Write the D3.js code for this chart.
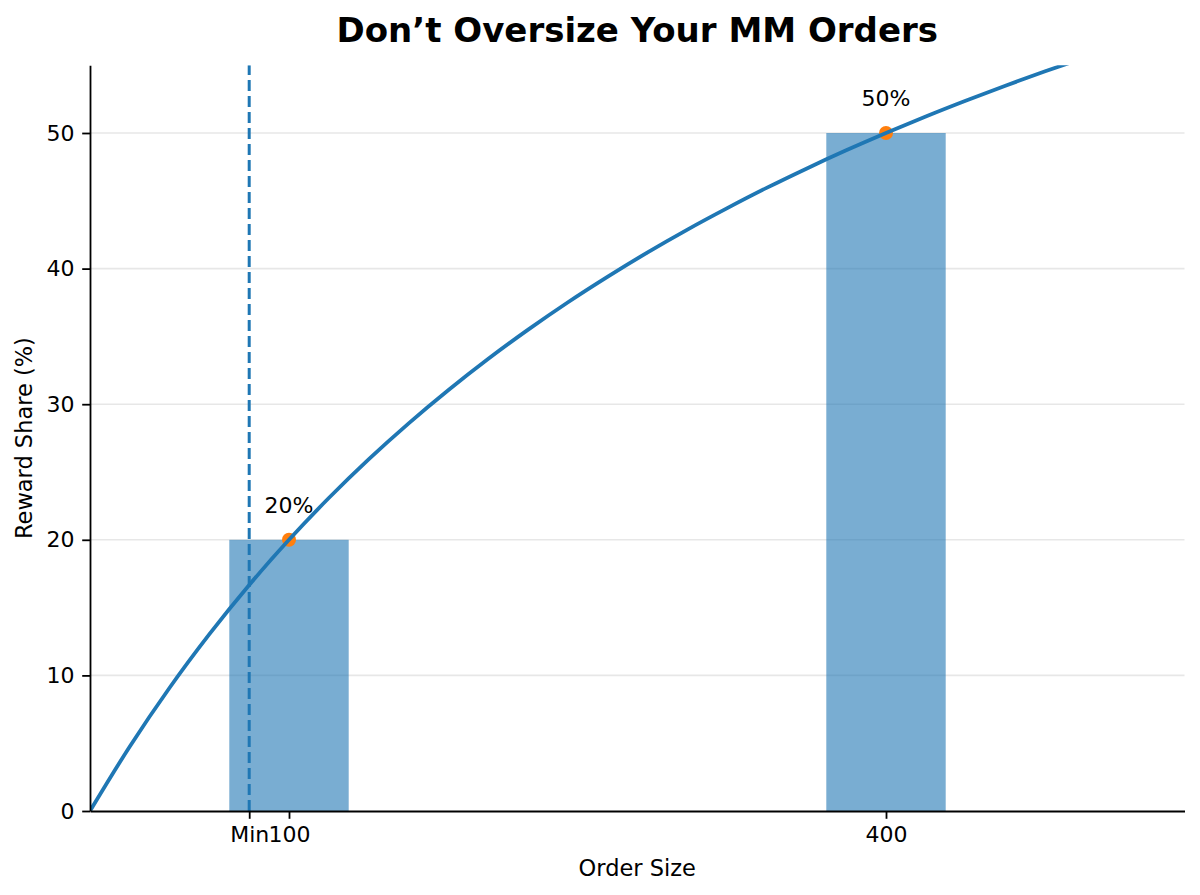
<!DOCTYPE html>
<html>
<head>
<meta charset="utf-8">
<script src="https://cdn.jsdelivr.net/npm/d3@7"></script>
<style>
  html, body { margin: 0; padding: 0; background: #fff; }
  svg { display: block; font-family: "DejaVu Sans", sans-serif; }
</style>
</head>
<body>
<svg id="chart" width="1200" height="895"></svg>
<script>
// ---- data ----
const titleText = "Don\u2019t Oversize Your MM Orders";
const xLabelText = "Order Size";
const yLabelText = "Reward Share (%)";
const barCategories = [100, 400];
const barValues = [20, 50];
const barLabels = ["20%", "50%"];
const barWidthUnits = 60;
const minOrderSize = 80;
const xTickValues = [80, 100, 400];
const xTickLabels = ["Min", "100", "400"];
const yTickValues = [0, 10, 20, 30, 40, 50];
const xDomain = [0, 550];
const yDomain = [0, 55];
const curveX = [0, 20, 40, 60, 80, 100, 120, 140, 160, 180, 200, 220, 240, 260, 280, 300, 320, 340, 360, 380, 400, 420, 440, 460, 480, 500];
const curveY = [0, 4.76, 9.09, 13.04, 16.67, 20.00, 23.08, 25.93, 28.57, 31.03, 33.33, 35.48, 37.50, 39.39, 41.18, 42.86, 44.44, 45.95, 47.37, 48.72, 50.00, 51.22, 52.38, 53.49, 54.55, 55.56];

// ---- layout ----
const L = 90, R = 1184.5, T = 65.2, B = 811;
const blue = "#1f77b4", orange = "#ff7f0e";
const svg = d3.select("#chart");
const x = d3.scaleLinear().domain(xDomain).range([L, R]);
const y = d3.scaleLinear().domain(yDomain).range([B, T]);

svg.append("defs").append("clipPath").attr("id", "plotclip")
  .append("rect").attr("x", L).attr("y", T).attr("width", R - L).attr("height", B - T);

// grid
svg.append("g").selectAll("line").data(yTickValues.filter(d => d > 0)).join("line")
  .attr("x1", L).attr("x2", R).attr("y1", d => y(d)).attr("y2", d => y(d))
  .attr("stroke", "#b0b0b0").attr("stroke-opacity", 0.3).attr("stroke-width", 1.6);

const plot = svg.append("g").attr("clip-path", "url(#plotclip)");

// bars
plot.selectAll("rect.bar").data(barCategories).join("rect").attr("class", "bar")
  .attr("x", d => x(d - barWidthUnits / 2))
  .attr("width", d => x(d + barWidthUnits / 2) - x(d - barWidthUnits / 2))
  .attr("y", (d, i) => y(barValues[i]))
  .attr("height", (d, i) => y(0) - y(barValues[i]))
  .attr("fill", blue).attr("fill-opacity", 0.6);

// min line
plot.append("line")
  .attr("x1", x(minOrderSize)).attr("x2", x(minOrderSize))
  .attr("y1", B).attr("y2", T)
  .attr("stroke", blue).attr("stroke-width", 3).attr("stroke-dasharray", "11,5");

// dots
plot.selectAll("circle").data(barCategories).join("circle")
  .attr("cx", d => x(d)).attr("cy", (d, i) => y(barValues[i])).attr("r", 7)
  .attr("fill", orange);

// curve
const pts = curveX.map((d, i) => [d, curveY[i]]);
plot.append("path").datum(pts)
  .attr("d", d3.line().x(d => x(d[0])).y(d => y(d[1])).curve(d3.curveMonotoneX))
  .attr("fill", "none").attr("stroke", blue).attr("stroke-width", 3.8);

// labels above bars
svg.append("g").selectAll("text").data(barCategories).join("text")
  .attr("x", d => x(d)).attr("y", (d, i) => y(barValues[i]) - 27)
  .attr("text-anchor", "middle").attr("font-size", 22).attr("fill", "#000")
  .text((d, i) => barLabels[i]);

// axes
const xAxis = d3.axisBottom(x).tickValues(xTickValues)
  .tickFormat((d, i) => xTickLabels[i]).tickSize(7.8).tickPadding(7.8).tickSizeOuter(0);
const gx = svg.append("g").attr("transform", `translate(0,${B})`).call(xAxis);
const yAxis = d3.axisLeft(y).tickValues(yTickValues).tickSize(7.8).tickPadding(7.8).tickSizeOuter(0);
const gy = svg.append("g").attr("transform", `translate(${L},0)`).call(yAxis);
[gx, gy].forEach(g => {
  g.select(".domain").attr("stroke", "#000").attr("stroke-width", 1.8);
  g.selectAll(".tick line").attr("stroke", "#000").attr("stroke-width", 1.8);
  g.selectAll(".tick text").attr("font-size", 22).attr("fill", "#000")
    .attr("font-family", "DejaVu Sans, sans-serif");
});

// axis labels
svg.append("text").attr("x", (L + R) / 2).attr("y", 876)
  .attr("text-anchor", "middle").attr("font-size", 22.5).attr("fill", "#000").text(xLabelText);
svg.append("text").attr("transform", `translate(32,${(T + B) / 2}) rotate(-90)`)
  .attr("text-anchor", "middle").attr("font-size", 22.5).attr("fill", "#000").text(yLabelText);

// title
svg.append("text").attr("x", (L + R) / 2).attr("y", 42)
  .attr("text-anchor", "middle").attr("font-size", 34).attr("font-weight", "bold")
  .attr("fill", "#000").text(titleText);
</script>
</body>
</html>
